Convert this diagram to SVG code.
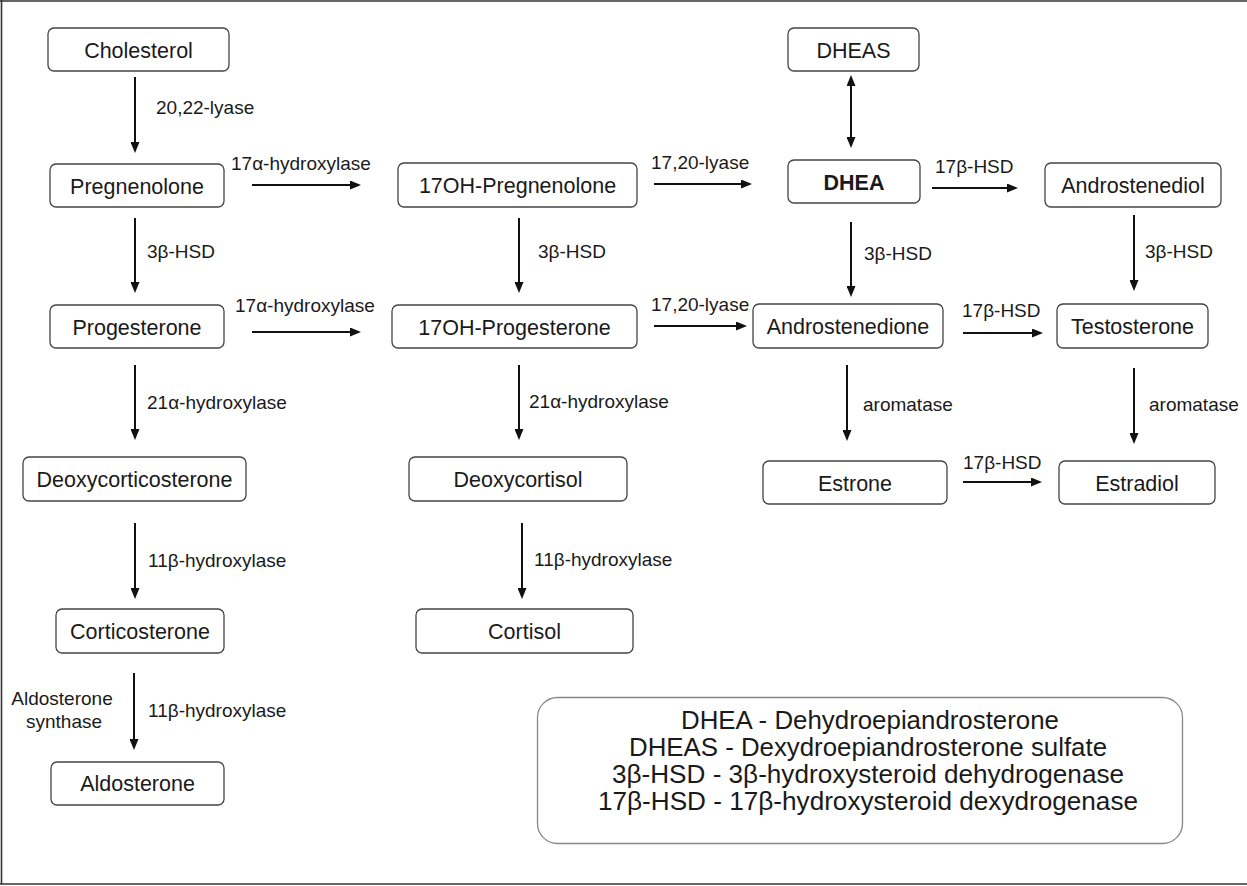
<svg xmlns="http://www.w3.org/2000/svg" width="1247" height="886" viewBox="0 0 1247 886">
<style>
.node rect{fill:#fff;stroke:#444;stroke-width:1.3}
.node text{font-family:"Liberation Sans",Arial,sans-serif;font-size:21.5px;fill:#1a1a1a;text-anchor:middle}
.lbl{font-family:"Liberation Sans",Arial,sans-serif;font-size:19px;fill:#1a1a1a}
.edges line{stroke:#111;stroke-width:2}
.legend text{font-family:"Liberation Sans",Arial,sans-serif;font-size:25px;fill:#1a1a1a;text-anchor:middle}
</style>
<defs>
<marker id="ah" markerUnits="userSpaceOnUse" markerWidth="11" markerHeight="9" refX="4" refY="4.5" orient="auto-start-reverse">
<path d="M0,0 L11,4.5 L0,9 z" fill="#111"/>
</marker>
</defs>
<rect width="1247" height="886" fill="#fff"/>
<g id="frame" stroke="#333" stroke-width="1.6" fill="none">
<line x1="0" y1="1" x2="1247" y2="1"/>
<line x1="1.5" y1="0" x2="1.5" y2="884"/>
<line x1="0" y1="884" x2="1247" y2="884"/>
</g>
<g id="n-cholesterol" class="node"><rect x="48" y="28" width="181" height="43" rx="6"/><text x="138.5" y="57.5">Cholesterol</text></g>
<g id="n-pregnenolone" class="node"><rect x="50" y="164" width="174" height="43" rx="6"/><text x="137" y="193.5">Pregnenolone</text></g>
<g id="n-progesterone" class="node"><rect x="50" y="305" width="174" height="43" rx="6"/><text x="137" y="334.5">Progesterone</text></g>
<g id="n-deoxycorticosterone" class="node"><rect x="23" y="457" width="223" height="44" rx="6"/><text x="134.5" y="486.5">Deoxycorticosterone</text></g>
<g id="n-corticosterone" class="node"><rect x="56" y="609" width="168" height="44" rx="6"/><text x="140" y="638.5">Corticosterone</text></g>
<g id="n-aldosterone" class="node"><rect x="51" y="762" width="173" height="43" rx="6"/><text x="137.5" y="791">Aldosterone</text></g>
<g id="n-17oh-pregnenolone" class="node"><rect x="398" y="163" width="239" height="44" rx="6"/><text x="517.5" y="192.5">17OH-Pregnenolone</text></g>
<g id="n-17oh-progesterone" class="node"><rect x="392" y="305" width="245" height="43" rx="6"/><text x="514.5" y="334.5">17OH-Progesterone</text></g>
<g id="n-deoxycortisol" class="node"><rect x="409" y="457" width="218" height="44" rx="6"/><text x="518" y="486.5">Deoxycortisol</text></g>
<g id="n-cortisol" class="node"><rect x="416" y="609" width="217" height="44" rx="6"/><text x="524.5" y="638.5">Cortisol</text></g>
<g id="n-dheas" class="node"><rect x="788" y="28" width="131" height="43" rx="6"/><text x="853.5" y="57.5">DHEAS</text></g>
<g id="n-dhea" class="node"><rect x="788" y="160" width="132" height="43" rx="6"/><text x="854" y="189.5" font-weight="bold">DHEA</text></g>
<g id="n-androstenediol" class="node"><rect x="1045" y="163" width="176" height="44" rx="6"/><text x="1133" y="192.5">Androstenediol</text></g>
<g id="n-androstenedione" class="node"><rect x="753" y="304" width="190" height="44" rx="6"/><text x="848" y="333.5">Androstenedione</text></g>
<g id="n-testosterone" class="node"><rect x="1057" y="304" width="151" height="44" rx="6"/><text x="1132.5" y="333.5">Testosterone</text></g>
<g id="n-estrone" class="node"><rect x="763" y="461" width="184" height="43" rx="6"/><text x="855" y="490.5">Estrone</text></g>
<g id="n-estradiol" class="node"><rect x="1059" y="461" width="156" height="43" rx="6"/><text x="1137" y="490.5">Estradiol</text></g>
<g id="edges" class="edges">
<line x1="135" y1="77" x2="135" y2="146" marker-end="url(#ah)"/>
<line x1="135" y1="218" x2="135" y2="286" marker-end="url(#ah)"/>
<line x1="135" y1="365" x2="135" y2="433" marker-end="url(#ah)"/>
<line x1="135" y1="523" x2="135" y2="592" marker-end="url(#ah)"/>
<line x1="134" y1="673" x2="134" y2="743" marker-end="url(#ah)"/>
<line x1="252" y1="185" x2="354" y2="185" marker-end="url(#ah)"/>
<line x1="252" y1="332" x2="354" y2="332" marker-end="url(#ah)"/>
<line x1="519" y1="218" x2="519" y2="286" marker-end="url(#ah)"/>
<line x1="519" y1="365" x2="519" y2="433" marker-end="url(#ah)"/>
<line x1="522" y1="523" x2="522" y2="592" marker-end="url(#ah)"/>
<line x1="654" y1="184" x2="745" y2="184" marker-end="url(#ah)"/>
<line x1="654" y1="326" x2="740" y2="326" marker-end="url(#ah)"/>
<line x1="851" y1="82" x2="851" y2="141" marker-start="url(#ah)" marker-end="url(#ah)"/>
<line x1="932" y1="188" x2="1011" y2="188" marker-end="url(#ah)"/>
<line x1="851" y1="222" x2="851" y2="290" marker-end="url(#ah)"/>
<line x1="1134" y1="215" x2="1134" y2="284" marker-end="url(#ah)"/>
<line x1="963" y1="333" x2="1036" y2="333" marker-end="url(#ah)"/>
<line x1="847" y1="365" x2="847" y2="434" marker-end="url(#ah)"/>
<line x1="1134" y1="368" x2="1134" y2="437" marker-end="url(#ah)"/>
<line x1="963" y1="482" x2="1035" y2="482" marker-end="url(#ah)"/>
</g>
<g id="labels">
<text class="lbl" x="156" y="114">20,22-lyase</text>
<text class="lbl" x="231" y="170">17α-hydroxylase</text>
<text class="lbl" x="147" y="258">3β-HSD</text>
<text class="lbl" x="235" y="312">17α-hydroxylase</text>
<text class="lbl" x="147" y="409">21α-hydroxylase</text>
<text class="lbl" x="148" y="567">11β-hydroxylase</text>
<text class="lbl" x="148" y="717">11β-hydroxylase</text>
<text class="lbl" x="62" y="705" text-anchor="middle">Aldosterone</text>
<text class="lbl" x="64" y="728" text-anchor="middle">synthase</text>
<text class="lbl" x="651" y="169">17,20-lyase</text>
<text class="lbl" x="538" y="258">3β-HSD</text>
<text class="lbl" x="651" y="311">17,20-lyase</text>
<text class="lbl" x="529" y="408">21α-hydroxylase</text>
<text class="lbl" x="534" y="566">11β-hydroxylase</text>
<text class="lbl" x="935" y="173">17β-HSD</text>
<text class="lbl" x="864" y="260">3β-HSD</text>
<text class="lbl" x="1145" y="258">3β-HSD</text>
<text class="lbl" x="962" y="317">17β-HSD</text>
<text class="lbl" x="863" y="411">aromatase</text>
<text class="lbl" x="1149" y="411">aromatase</text>
<text class="lbl" x="963" y="469">17β-HSD</text>
</g>
<g id="legend" class="legend">
<rect x="537.5" y="697.5" width="645" height="146" rx="20" fill="#fff" stroke="#888" stroke-width="1.3"/>
<text x="870" y="729" textLength="378" lengthAdjust="spacingAndGlyphs">DHEA - Dehydroepiandrosterone</text>
<text x="868" y="756" textLength="478" lengthAdjust="spacingAndGlyphs">DHEAS - Dexydroepiandrosterone sulfate</text>
<text x="868" y="783" textLength="512" lengthAdjust="spacingAndGlyphs">3β-HSD - 3β-hydroxysteroid dehydrogenase</text>
<text x="868" y="810" textLength="540" lengthAdjust="spacingAndGlyphs">17β-HSD - 17β-hydroxysteroid dexydrogenase</text>
</g>
</svg>
